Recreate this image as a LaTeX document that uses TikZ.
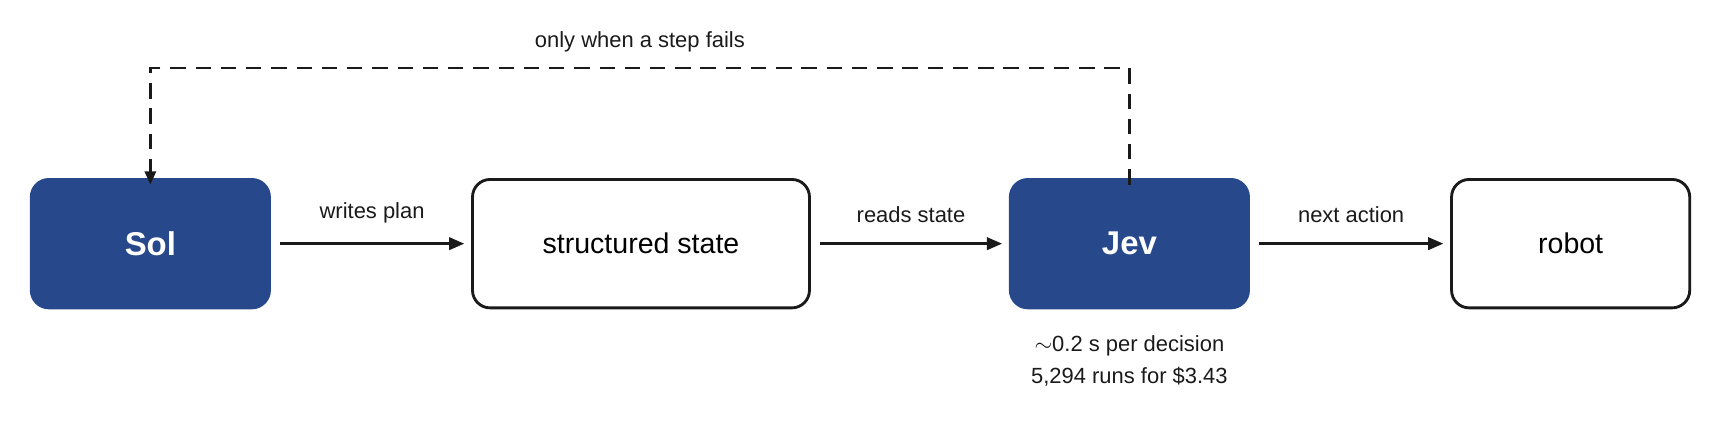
\documentclass[tikz,border=0pt]{standalone}
\usepackage{fontspec}
\setmainfont{Liberation Sans}
\usetikzlibrary{arrows.meta}
\usetikzlibrary{positioning}
\definecolor{solblue}{RGB}{40,72,140}
\definecolor{ink}{RGB}{26,26,26}
\tikzset{
  box/.style={rectangle,rounded corners=16pt,minimum width=217pt,minimum height=117pt,line width=2.6pt,draw=ink,fill=white,font=\fontsize{26}{30}\selectfont},
  agent/.style={box,draw=solblue,fill=solblue,text=white,font=\fontsize{30}{34}\selectfont\bfseries},
  flow/.style={line width=3pt,draw=ink,-{Triangle[length=14pt,width=11pt]}},
  lbl/.style={font=\fontsize{20}{24}\selectfont,text=ink}
}
\begin{document}
\begin{tikzpicture}[x=1pt,y=-1pt]
	\useasboundingbox (0,0) rectangle (1568,387);
	%BOXES
	\node [agent] (sol) at (137,222) {Sol};
	\node [box,minimum width=307pt] (state) at (584,222) {structured state};
	\node [agent] (jev) at (1029,222) {Jev};
	\node [box] (robot) at (1431,222) {robot};
	%ARROWS
	\draw[flow] ([xshift=8pt]sol.east) -- node[lbl,above=14pt] {writes plan} ([xshift=-6pt]state.west);
	\draw[flow] ([xshift=8pt]state.east) -- node[lbl,above=14pt] {reads state} ([xshift=-6pt]jev.west);
	\draw[flow] ([xshift=8pt]jev.east) -- node[lbl,above=14pt] {next action} ([xshift=-6pt]robot.west);
	%FEEDBACK
	\coordinate (top) at (1029,62);
	\draw[line width=2.6pt,draw=ink,dash pattern=on 14pt off 9pt,-{Triangle[length=12pt,width=10pt]}]
	  ([yshift=-6pt]jev.north) -- (top) -| node[lbl,pos=0.25,above=10pt] {only when a step fails} ([yshift=-6pt]sol.north);
	%NOTES
	\node [lbl,below=20pt of jev.south,align=center,font=\fontsize{20}{30}\selectfont] (cost) {$\sim$0.2 s per decision\\5,294 runs for \$3.43};
\end{tikzpicture}
\end{document}
